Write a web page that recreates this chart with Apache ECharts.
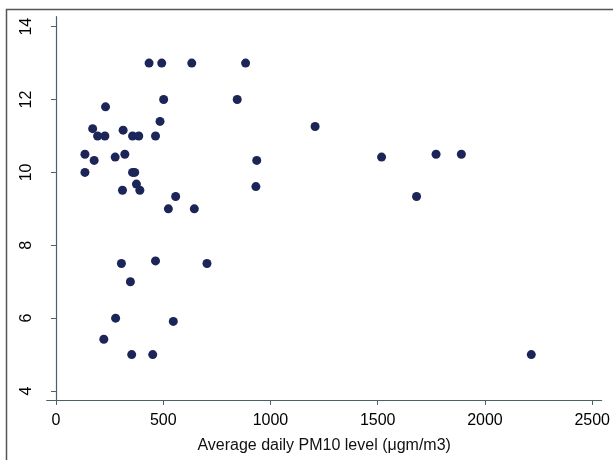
<!DOCTYPE html>
<html>
<head>
<meta charset="utf-8">
<script src="https://cdn.jsdelivr.net/npm/echarts@6/dist/echarts.min.js"></script>
<style>
html,body{margin:0;padding:0;background:#fff;}
#chart{width:613px;height:460px;}
</style>
</head>
<body>
<div id="chart"></div>
<script>
// PM10 (x) values
const pm10 = [434, 493, 633, 884, 502, 845, 231, 485, 171, 194, 228, 313, 357, 386, 464, 1208,
  135, 178, 276, 321, 135, 357, 367, 375, 391, 310, 558, 524, 645, 936, 932,
  1518, 1772, 1890, 1681, 2216,
  305, 464, 704, 347, 278, 547, 223, 353, 451];
// y values
const yVals = [13.0, 13.0, 13.0, 13.0, 12.0, 12.0, 11.8, 11.4, 11.2, 11.0, 11.0, 11.16, 11.0, 11.0, 11.0, 11.26,
  10.5, 10.33, 10.42, 10.5, 10.0, 10.0, 10.0, 9.68, 9.51, 9.51, 9.34, 9.0, 9.0, 10.33, 9.61,
  10.42, 10.5, 10.5, 9.34, 5.0,
  7.5, 7.57, 7.5, 7.0, 6.0, 5.91, 5.42, 5.0, 5.0];
const xTicks = [0, 500, 1000, 1500, 2000, 2500];
const yTicks = [4, 6, 8, 10, 12, 14];
const xTitle = 'Average daily PM10 level (μgm/m3)';

const points = pm10.map((x, i) => [x, yVals[i]]);
const axisColor = '#4a6266';
const font = 'Liberation Sans, Arial, sans-serif';
const chart = echarts.init(document.getElementById('chart'), null, {renderer: 'canvas'});
chart.setOption({
  animation: false,
  backgroundColor: '#fff',
  graphic: [{
    type: 'rect', silent: true, z: -1,
    shape: {x: 6.5, y: 9.5, width: 700, height: 600},
    style: {fill: 'none', stroke: '#555', lineWidth: 1.5}
  }],
  grid: {left: 46.7, right: 10, top: 16.7, bottom: 60, containLabel: false},
  xAxis: {
    type: 'value', min: -43.3, max: 2544,
    splitLine: {show: false},
    axisLine: {show: true, lineStyle: {color: axisColor, width: 1.2}},
    axisTick: {show: true, length: 5, customValues: xTicks, lineStyle: {color: axisColor}},
    axisLabel: {customValues: xTicks, formatter: v => String(v), color: '#000', fontSize: 16, fontFamily: font, margin: 13},
    name: xTitle, nameLocation: 'middle', nameGap: 38,
    nameTextStyle: {color: '#111', fontSize: 16, fontFamily: font}
  },
  yAxis: {
    type: 'value', min: 3.753, max: 14.274,
    splitLine: {show: false},
    axisLine: {show: true, lineStyle: {color: axisColor, width: 1.2}},
    axisTick: {show: true, length: 5, customValues: yTicks, lineStyle: {color: axisColor}},
    axisLabel: {customValues: yTicks, formatter: v => String(v), rotate: 90, color: '#000', fontSize: 16, fontFamily: font, margin: 12}
  },
  series: [{
    type: 'scatter',
    data: points,
    symbol: 'circle',
    symbolSize: 9,
    itemStyle: {color: '#1b2557', opacity: 1}
  }]
});
</script>
</body>
</html>
